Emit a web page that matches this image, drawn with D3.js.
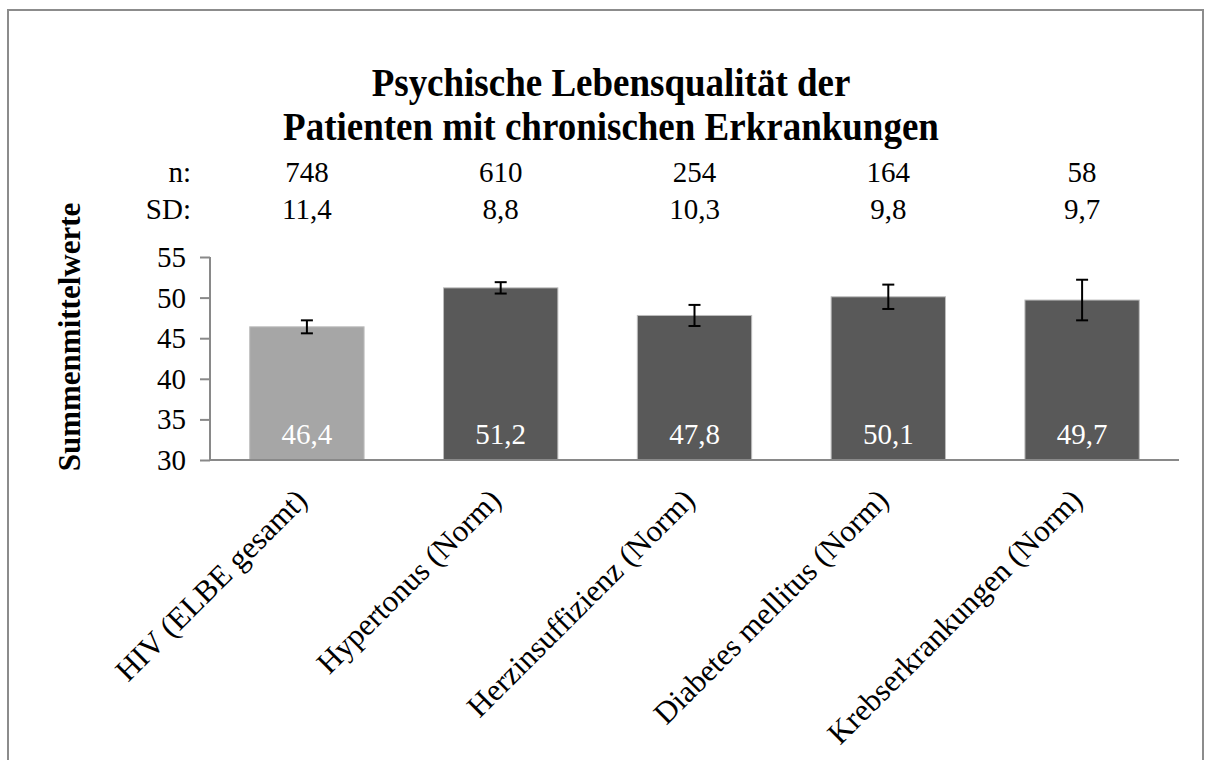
<!DOCTYPE html>
<html>
<head>
<meta charset="utf-8">
<script src="https://cdn.jsdelivr.net/npm/d3@7"></script>
<style>
  body { margin: 0; background: #fff; }
  svg text { font-family: "Liberation Serif", "Times New Roman", serif; }
</style>
</head>
<body>
<svg id="chart" width="1213" height="760"></svg>
<script>
// data
const categories = ["HIV (ELBE gesamt)", "Hypertonus (Norm)", "Herzinsuffizienz (Norm)", "Diabetes mellitus (Norm)", "Krebserkrankungen (Norm)"];
const means = [46.4, 51.2, 47.8, 50.1, 49.7];
const errors = [0.8, 0.7, 1.3, 1.5, 2.5];   // half-length of the error bars
const nValues = ["748", "610", "254", "164", "58"];
const sdValues = ["11,4", "8,8", "10,3", "9,8", "9,7"];
const yTicks = [30, 35, 40, 45, 50, 55];
const title = ["Psychische Lebensqualität der", "Patienten mit chronischen Erkrankungen"];
const yLabel = "Summenmittelwerte";

const fmt = v => String(v).replace(".", ",");

const svg = d3.select("#chart");

// outer frame
svg.append("rect")
    .attr("x", 8).attr("y", 10)
    .attr("width", 1195).attr("height", 760)
    .attr("fill", "none")
    .attr("stroke", "#8c8c8c")
    .attr("stroke-width", 2);

let x = d3.scaleBand().domain(categories).range([210, 1179]).paddingInner(0.41).paddingOuter(0.205),
    y = d3.scaleLinear().domain([30, 55]).range([460, 257]);

// title (glyphs a bit taller than wide, like the reference)
const tScale = 1.1;
svg.append("g")
    .attr("transform", `translate(611,0) scale(1,${tScale})`)
    .append("text")
    .attr("text-anchor", "middle")
    .style("font-size", "37px").style("font-weight", "bold")
    .selectAll("tspan").data(title).enter()
    .append("tspan")
    .attr("x", 0)
    .attr("y", (d, i) => (i ? 140 : 96) / tScale)
    .text(d => d);

// y axis
let yAxis = svg.append("g")
    .attr("transform", "translate(210,0)")
    .call(d3.axisLeft(y).tickValues(yTicks).tickSize(10).tickPadding(14).tickFormat(d3.format("d")));
yAxis.selectAll("text").style("font-size", "29px").attr("fill", "#000").attr("dy", "0.33em");
yAxis.selectAll("line").attr("stroke", "#898989").attr("stroke-width", 2);
yAxis.select(".domain").attr("stroke", "#898989").attr("stroke-width", 2).attr("d", "M0,257V460");

// bars
svg.selectAll("rect.bar").data(means).enter()
    .append("rect")
    .attr("class", "bar")
    .attr("x", (d, i) => x(categories[i]))
    .attr("width", x.bandwidth())
    .attr("y", d => y(d))
    .attr("height", d => y(30) - y(d))
    .attr("fill", (d, i) => i === 0 ? "#a6a6a6" : "#595959")
    .attr("stroke", "#bdbdbd")
    .attr("stroke-width", 1);

// x axis line
svg.append("line")
    .attr("x1", 210).attr("x2", 1179)
    .attr("y1", y(30)).attr("y2", y(30))
    .attr("stroke", "#898989").attr("stroke-width", 2);

// error bars
let eb = svg.selectAll("g.err").data(means).enter()
    .append("g").attr("class", "err")
    .attr("transform", (d, i) => `translate(${x(categories[i]) + x.bandwidth() / 2},0)`)
    .attr("stroke", "#000").attr("stroke-width", 2);
eb.append("line").attr("y1", (d, i) => y(d + errors[i])).attr("y2", (d, i) => y(d - errors[i]));
eb.append("line").attr("x1", -6).attr("x2", 6).attr("y1", (d, i) => y(d + errors[i])).attr("y2", (d, i) => y(d + errors[i]));
eb.append("line").attr("x1", -6).attr("x2", 6).attr("y1", (d, i) => y(d - errors[i])).attr("y2", (d, i) => y(d - errors[i]));

// value labels inside bars
svg.selectAll("text.val").data(means).enter()
    .append("text").attr("class", "val")
    .attr("x", (d, i) => x(categories[i]) + x.bandwidth() / 2)
    .attr("y", 444)
    .attr("text-anchor", "middle")
    .attr("fill", "#fff")
    .style("font-size", "29px")
    .text(d => fmt(d));

// n and SD rows
[["n:", nValues, 182], ["SD:", sdValues, 219]].forEach(([lab, vals, yy]) => {
    svg.append("text").attr("x", 191).attr("y", yy)
        .attr("text-anchor", "end").style("font-size", "29px").text(lab);
    svg.selectAll(null).data(vals).enter()
        .append("text")
        .attr("x", (d, i) => x(categories[i]) + x.bandwidth() / 2)
        .attr("y", yy)
        .attr("text-anchor", "middle")
        .style("font-size", "29px")
        .text(d => d);
});

// category labels, rotated
svg.selectAll("text.cat").data(categories).enter()
    .append("text").attr("class", "cat")
    .attr("text-anchor", "end")
    .style("font-size", "31px")
    .attr("transform", d => `translate(${x(d) + x.bandwidth() / 2 + 2},${502}) rotate(-45)`)
    .text(d => d);

// y axis title
svg.append("text")
    .attr("transform", "translate(80,337) rotate(-90)")
    .attr("text-anchor", "middle")
    .style("font-size", "31px").style("font-weight", "bold")
    .text(yLabel);
</script>
</body>
</html>
